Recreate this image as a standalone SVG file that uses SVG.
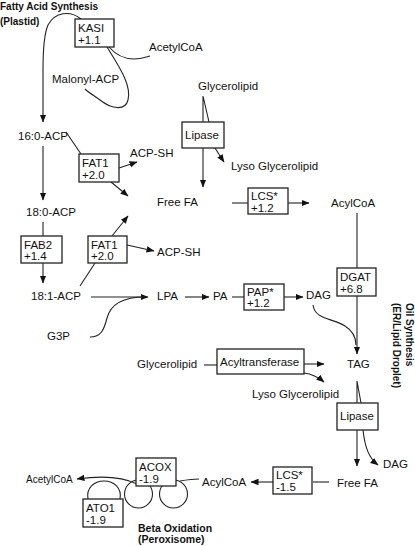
<svg xmlns="http://www.w3.org/2000/svg" width="415" height="546" viewBox="0 0 415 546">
<style>
.t{font-family:"Liberation Sans",Arial,sans-serif;font-size:11.5px;fill:#111}
.s{font-family:"Liberation Sans",Arial,sans-serif;font-size:10px;fill:#111}
.b{font-family:"Liberation Sans",Arial,sans-serif;font-weight:bold;font-size:10px;fill:#111}
.box{fill:#fff;stroke:#222;stroke-width:1.3}
.c{fill:none;stroke:#222;stroke-width:1.1}
.a{marker-end:url(#ah)}
</style>
<defs>
<marker id="ah" markerUnits="userSpaceOnUse" markerWidth="9" markerHeight="8" refX="7.5" refY="3.2" orient="auto">
<path d="M0,0 L8,3.2 L0,6.4 z" fill="#111"/>
</marker>
</defs>
<rect width="415" height="546" fill="#fff"/>
<g id="connectors">
<path class="c a" d="M81,19 C70,10 55,12 48,25 C44,34 43,50 43,70 L43,122"/>
<path class="c" d="M109,47 C116,55 125,59 134,59 C141,59 146,57 150,56"/>
<path class="c" d="M107,47 C118,65 132,85 128,100 C125,112 110,108 100,100 C93,95 88,92 85,89"/>
<path class="c a" d="M43,146 L43,200"/>
<path class="c" d="M66,132 L81,154"/>
<path class="c a" d="M119,168 L137,162"/>
<path class="c a" d="M111,182 L128,196"/>
<path class="c a" d="M43,222 L43,283"/>
<path class="c" d="M80,286 L95,263"/>
<path class="c a" d="M112,236 L128,216"/>
<path class="c a" d="M127,245 L154,251"/>
<path class="c a" d="M91,297 L148,297"/>
<path class="c" d="M90,337 C101,337 104,330 107,318 C111,303 124,297 145,297"/>
<path class="c a" d="M185,297 L209,297"/>
<path class="c" d="M232,297 L244,297"/>
<path class="c a" d="M284,297 L303,297"/>
<path class="c" d="M313,305 C315,320 333,318 345,326 C353,331 356,338 356,345"/>
<path class="c a" d="M357,213 L357,354"/>
<path class="c" d="M203,96 L203,122 M203,96 L209,122"/>
<path class="c a" d="M203,148 L203,187"/>
<path class="c a" d="M215,148 L224,162"/>
<path class="c" d="M232,203 L248,203"/>
<path class="c a" d="M288,203 L309,203"/>
<path class="c" d="M204,365 L217,365"/>
<path class="c a" d="M304,364 L324,364"/>
<path class="c a" d="M304,373 C312,374 318,377 324,382"/>
<path class="c" d="M357,381 L357,403 M357,381 L361,403"/>
<path class="c a" d="M357,430 L357,466"/>
<path class="c a" d="M363,430 C365,448 369,458 378,465"/>
<path class="c" d="M313,482 L329,482"/>
<path class="c a" d="M273,482 L251,482"/>
<path class="c" d="M199,479 C192,479 186,480 180,481"/>
<circle class="c" cx="173.5" cy="494" r="14"/>
<circle class="c" cx="138.5" cy="494" r="14"/>
<path class="c a" d="M137,484 C125,478 105,475 77,479"/>
<path class="c" d="M88,499 C86,488 94,481 104,481 C114,481 122,488 120,499"/>
</g>
<g id="title-fas"><text class="b" x="0" y="10">Fatty Acid Synthesis</text><text class="b" x="0" y="25">(Plastid)</text></g>
<g id="kasi"><rect class="box" x="75" y="19" width="39" height="28"/><text class="t" x="78" y="32">KASI</text><text class="t" x="78" y="44">+1.1</text></g>
<g id="acetylcoa-top"><text class="t" x="149" y="51">AcetylCoA</text></g>
<g id="malonyl-acp"><text class="t" x="52" y="83">Malonyl-ACP</text></g>
<g id="acp160"><text class="t" x="18" y="140">16:0-ACP</text></g>
<g id="fat1-a"><rect class="box" x="79" y="154" width="40" height="28"/><text class="t" x="82" y="167">FAT1</text><text class="t" x="82" y="179">+2.0</text></g>
<g id="acpsh-a"><text class="t" x="130" y="157">ACP-SH</text></g>
<g id="acp180"><text class="t" x="26" y="216">18:0-ACP</text></g>
<g id="fab2"><rect class="box" x="21" y="236" width="41" height="27"/><text class="t" x="24" y="249">FAB2</text><text class="t" x="24" y="260">+1.4</text></g>
<g id="fat1-b"><rect class="box" x="88" y="236" width="39" height="27"/><text class="t" x="91" y="249">FAT1</text><text class="t" x="91" y="260">+2.0</text></g>
<g id="acpsh-b"><text class="t" x="157" y="256">ACP-SH</text></g>
<g id="freefa-a"><text class="t" x="157" y="206">Free FA</text></g>
<g id="acp181"><text class="t" x="31" y="300">18:1-ACP</text></g>
<g id="g3p"><text class="t" x="47" y="340">G3P</text></g>
<g id="lpa"><text class="t" x="157" y="300">LPA</text></g>
<g id="pa"><text class="t" x="213" y="300">PA</text></g>
<g id="pap"><rect class="box" x="244" y="284" width="40" height="26"/><text class="t" x="247" y="296">PAP*</text><text class="t" x="247" y="307">+1.2</text></g>
<g id="dag-a"><text class="t" x="306" y="299">DAG</text></g>
<g id="glycerolipid-a"><text class="t" x="198" y="90">Glycerolipid</text></g>
<g id="lipase-a"><rect class="box" x="182" y="122" width="42" height="26"/><text class="t" x="185" y="139">Lipase</text></g>
<g id="lyso-a"><text class="t" x="231" y="170">Lyso Glycerolipid</text></g>
<g id="lcs-a"><rect class="box" x="248" y="188" width="40" height="26"/><text class="t" x="251" y="200">LCS*</text><text class="t" x="251" y="212">+1.2</text></g>
<g id="acylcoa-a"><text class="t" x="331" y="207">AcylCoA</text></g>
<g id="dgat"><rect class="box" x="337" y="268" width="39" height="28"/><text class="t" x="340" y="281">DGAT</text><text class="t" x="340" y="293">+6.8</text></g>
<g id="tag"><text class="t" x="347" y="368">TAG</text></g>
<g id="glycerolipid-b"><text class="t" x="137" y="368">Glycerolipid</text></g>
<g id="acyltransferase"><rect class="box" x="217" y="349" width="87" height="25"/><text class="t" x="220" y="366">Acyltransferase</text></g>
<g id="lyso-b"><text class="t" x="252" y="398">Lyso Glycerolipid</text></g>
<g id="lipase-b"><rect class="box" x="337" y="403" width="41" height="27"/><text class="t" x="340" y="420">Lipase</text></g>
<g id="dag-b"><text class="t" x="383" y="468">DAG</text></g>
<g id="freefa-b"><text class="t" x="337" y="487">Free FA</text></g>
<g id="lcs-b"><rect class="box" x="273" y="467" width="39" height="27"/><text class="t" x="276" y="479">LCS*</text><text class="t" x="276" y="491">-1.5</text></g>
<g id="acylcoa-b"><text class="t" x="202" y="486">AcylCoA</text></g>
<g id="acox"><rect class="box" x="136" y="458" width="40" height="28"/><text class="t" x="139" y="471">ACOX</text><text class="t" x="139" y="483">-1.9</text></g>
<g id="ato1"><rect class="box" x="83" y="499" width="40" height="28"/><text class="t" x="86" y="512">ATO1</text><text class="t" x="86" y="524">-1.9</text></g>
<g id="acetylcoa-b"><text class="s" x="26" y="483">AcetylCoA</text></g>
<g id="title-beta"><text class="b" x="138" y="532" style="font-size:10.5px">Beta Oxidation</text><text class="b" x="138" y="543" style="font-size:10.5px">(Peroxisome)</text></g>
<g id="title-oil"><text class="b" transform="translate(406,303) rotate(90)">Oil Synthesis</text><text class="b" transform="translate(393,303) rotate(90)">(ER/Lipid Droplet)</text></g>
</svg>
